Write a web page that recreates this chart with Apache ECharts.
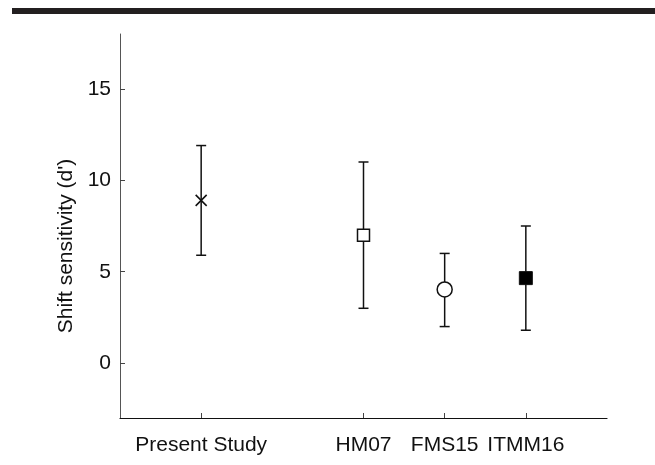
<!DOCTYPE html>
<html>
<head>
<meta charset="utf-8">
<script src="https://cdn.jsdelivr.net/npm/echarts@6/dist/echarts.min.js"></script>
<style>html,body{margin:0;padding:0;background:#fff;}#c{width:655px;height:465px;}</style>
</head>
<body>
<div id="c"></div>
<script>
var categories = ['Present Study', 'HM07', 'FMS15', 'ITMM16'];
var positions = [1, 3, 4, 5];
var means = [8.9, 7.0, 4.03, 4.65];
var upper = [11.9, 11.0, 6.0, 7.5];
var lower = [5.9, 3.0, 2.0, 1.8];
var yTicks = [0, 5, 10, 15];
var yTickLabels = ['0', '5', '10', '15'];

var chart = echarts.init(document.getElementById('c'), null, {renderer: 'canvas'});
var FONT = '"Liberation Sans", Arial, Helvetica, sans-serif';

var errData = positions.map(function (p, i) { return [p, lower[i], upper[i]]; });
function markerSeries(i, symbol, size, fill, bw) {
  return {
    type: 'scatter', z: 5, silent: true,
    symbol: symbol, symbolSize: size,
    data: [[positions[i], means[i]]],
    itemStyle: {color: fill, borderColor: '#111', borderWidth: bw, opacity: 1}
  };
}

chart.setOption({
  animation: false,
  backgroundColor: '#fff',
  grid: {left: 120, right: 48, top: 34, bottom: 47, containLabel: false},
  graphic: [
    {type: 'rect', shape: {x: 12, y: 8, width: 643, height: 6}, style: {fill: '#231f20'}, silent: true}
  ],
  xAxis: {
    type: 'value', min: 0, max: 6, interval: 1,
    splitLine: {show: false},
    axisLine: {show: true, onZero: false, lineStyle: {color: '#111', width: 1.2}},
    axisTick: {show: true, inside: true, length: 5, customValues: positions, lineStyle: {color: '#444'}},
    axisLabel: {
      customValues: positions, margin: 17,
      color: '#111', fontFamily: FONT, fontSize: 21,
      formatter: function (v) { var k = positions.indexOf(v); return k >= 0 ? categories[k] : ''; }
    }
  },
  yAxis: {
    type: 'value', min: -3, max: 18,
    name: "Shift sensitivity (d')", nameLocation: 'middle', nameGap: 43,
    nameTextStyle: {color: '#111', fontFamily: FONT, fontSize: 21, padding: [0, 40, 0, 0]},
    splitLine: {show: false},
    axisLine: {show: true, onZero: false, lineStyle: {color: '#555', width: 1}},
    axisTick: {show: true, inside: true, length: 5, customValues: yTicks, lineStyle: {color: '#444'}},
    axisLabel: {
      customValues: yTicks, margin: 9,
      color: '#111', fontFamily: FONT, fontSize: 21,
      formatter: function (v) { var k = yTicks.indexOf(v); return k >= 0 ? yTickLabels[k] : ''; }
    }
  },
  series: [
    {
      type: 'custom', z: 2, silent: true,
      data: errData,
      renderItem: function (params, api) {
        var x = api.value(0);
        var lo = api.coord([x, api.value(1)]);
        var hi = api.coord([x, api.value(2)]);
        var hw = 5;
        var st = {stroke: '#111', lineWidth: 1.5};
        return {
          type: 'group',
          children: [
            {type: 'line', shape: {x1: lo[0], y1: lo[1], x2: hi[0], y2: hi[1]}, style: st},
            {type: 'line', shape: {x1: hi[0] - hw, y1: hi[1], x2: hi[0] + hw, y2: hi[1]}, style: st},
            {type: 'line', shape: {x1: lo[0] - hw, y1: lo[1], x2: lo[0] + hw, y2: lo[1]}, style: st}
          ]
        };
      }
    },
    markerSeries(0, 'path://M0,0L10,10M10,0L0,10', 11, 'rgba(0,0,0,0)', 1.6),
    markerSeries(1, 'rect', 12, '#fff', 1.5),
    markerSeries(2, 'circle', 15, '#fff', 1.5),
    markerSeries(3, 'rect', 13, '#000', 1)
  ]
});
</script>
</body>
</html>
